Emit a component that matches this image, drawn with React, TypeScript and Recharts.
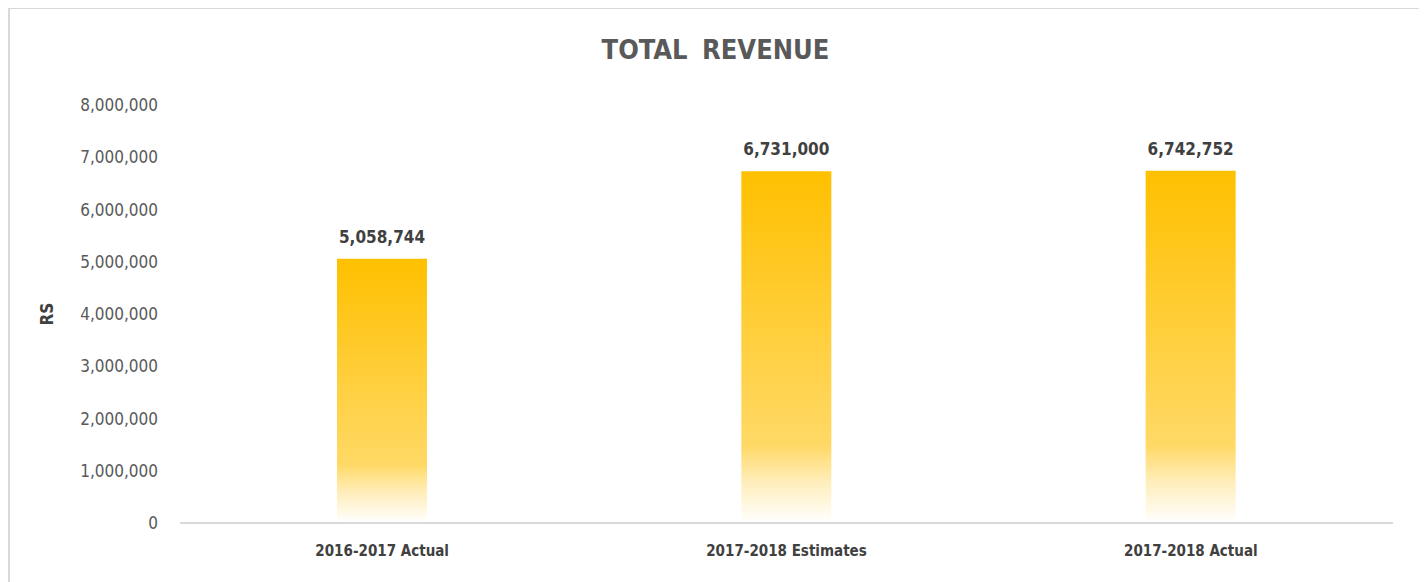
import React from 'react';
import { BarChart, Bar, XAxis, YAxis, LabelList, Label } from 'recharts';

const categories = ['2016-2017 Actual', '2017-2018 Estimates', '2017-2018 Actual'];
const revenue = [5058744, 6731000, 6742752];
const yTicks = [0, 1000000, 2000000, 3000000, 4000000, 5000000, 6000000, 7000000, 8000000];

const data = categories.map((name, i) => ({ name, revenue: revenue[i] }));

const FONT = "'DejaVu Sans Condensed', 'DejaVu Sans', sans-serif";
const fmt = (v: number) => v.toLocaleString('en-US');

const App: React.FC = () => {
  return (
    <div
      style={{
        position: 'relative',
        width: 1411,
        height: 574,
        marginTop: -1,
        borderTop: '2px solid #d9d9d9',
        borderLeft: '2px solid #d9d9d9',
        borderRight: '2px solid #d9d9d9',
        background: '#fff',
        fontFamily: FONT,
      }}
    >
      <div
        style={{
          position: 'absolute',
          top: 25,
          left: 0,
          width: 1411,
          textAlign: 'center',
          fontSize: 27,
          fontWeight: 'bold',
          color: '#595959',
          letterSpacing: 0,
          wordSpacing: 6,
          fontStretch: 'condensed',
        }}
      >
        TOTAL REVENUE
      </div>
      <BarChart
        width={1411}
        height={571}
        data={data}
        margin={{ top: 96, right: 28, left: 0, bottom: 7 }}
        style={{ fontFamily: FONT }}
      >
        <defs>
          <linearGradient id="barFill" x1="0" y1="0" x2="0" y2="1">
            <stop offset="0" stopColor="#FFC000" />
            <stop offset="0.78" stopColor="#FFD966" />
            <stop offset="0.88" stopColor="#FFEDB8" />
            <stop offset="1" stopColor="#FFFFFF" />
          </linearGradient>
        </defs>
        <XAxis
          dataKey="name"
          height={50}
          axisLine={{ stroke: '#d9d9d9', strokeWidth: 2 }}
          tickLine={false}
          tickMargin={16}
          tick={{ fill: '#404040', fontSize: 15, fontWeight: 'bold' }}
        />
        <YAxis
          width={170}
          domain={[0, 8000000]}
          ticks={yTicks}
          tickFormatter={fmt}
          axisLine={false}
          tickLine={false}
          tickMargin={16}
          tick={{ fill: '#595959', fontSize: 17 }}
        >
          <Label
            content={({ viewBox }: any) => {
              const cx = 37;
              const cy = viewBox.y + viewBox.height / 2;
              return (
                <text
                  x={cx}
                  y={cy}
                  transform={`rotate(-90, ${cx}, ${cy})`}
                  textAnchor="middle"
                  dominantBaseline="central"
                  fill="#404040"
                  fontSize={17}
                  fontWeight="bold"
                  fontFamily={FONT}
                >
                  RS
                </text>
              );
            }}
          />
        </YAxis>
        <Bar dataKey="revenue" barSize={90} fill="url(#barFill)" isAnimationActive={false}>
          <LabelList
            dataKey="revenue"
            position="top"
            offset={16}
            formatter={(v: any) => fmt(Number(v))}
            fill="#404040"
            fontSize={17}
            fontWeight="bold"
          />
        </Bar>
      </BarChart>
    </div>
  );
};

export default App;
